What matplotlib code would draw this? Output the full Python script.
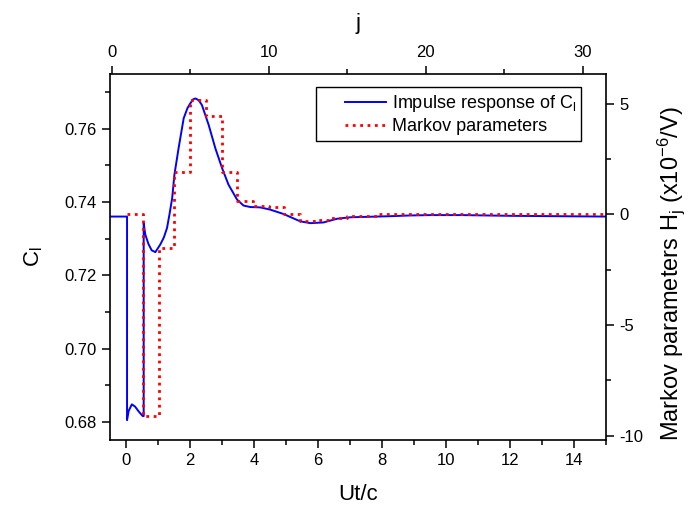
import matplotlib
matplotlib.use('Agg')
import matplotlib.pyplot as plt
from matplotlib.ticker import MultipleLocator
from matplotlib.legend_handler import HandlerLine2D

plt.rcParams['font.family'] = ['Liberation Sans', 'DejaVu Sans']
plt.rcParams['mathtext.fontset'] = 'custom'
plt.rcParams['mathtext.rm'] = 'Liberation Sans'
plt.rcParams['mathtext.it'] = 'Liberation Sans'
plt.rcParams['mathtext.default'] = 'regular'
plt.rcParams['axes.unicode_minus'] = False

# impulse response of C_l (Ut/c, C_l)
ut = [-0.5, 0.03, 0.03, 0.08, 0.18, 0.28, 0.40, 0.52, 0.55, 0.55, 0.60, 0.70,
      0.80, 0.915, 1.07, 1.18, 1.28, 1.36, 1.44, 1.51, 1.64, 1.80, 1.92, 2.01,
      2.10, 2.17, 2.27, 2.37, 2.58, 2.79, 3.00, 3.20, 3.47, 3.67, 3.88, 4.19,
      4.50, 4.92, 5.44, 5.76, 6.17, 6.59, 7.00, 8.25, 8.88, 9.50, 10.5, 12.0,
      15.0]
cl = [0.736, 0.736, 0.6805, 0.6830, 0.6848, 0.6842, 0.6828, 0.6816, 0.6816,
      0.7342, 0.7311, 0.7285, 0.7268, 0.7263, 0.7284, 0.7303, 0.7329, 0.7368,
      0.7410, 0.7474, 0.7546, 0.7628, 0.7656, 0.7669, 0.7680, 0.7682, 0.7677,
      0.7664, 0.7610, 0.7546, 0.7492, 0.7447, 0.7406, 0.7390, 0.7386, 0.7385,
      0.7379, 0.7367, 0.7347, 0.7342, 0.7344, 0.7354, 0.7358, 0.7361, 0.7363,
      0.7364, 0.7364, 0.7362, 0.7360]

# Markov parameters H_j (x1e-6 /V), j = 1..32
j = list(range(1, 33))
h = [0.0, -9.11, -1.51, 1.90, 5.16, 4.46, 1.92, 0.61, 0.39, 0.32, 0.0, -0.30,
     -0.23, -0.15, -0.08, -0.05, 0.0, 0.02, 0.03, 0.03, 0.03, 0.03, 0.02, 0.02,
     0.02, 0.01, 0.01, 0.01, 0.0, 0.0, 0.0, 0.0]

fig = plt.figure(figsize=(6.88, 5.07), dpi=100)
ax = fig.add_axes([0.16, 0.133, 0.721, 0.722])
ax2 = fig.add_axes(ax.get_position(), frameon=False)
ax2.patch.set_visible(False)

l1, = ax.plot(ut, cl, color='#0000ff', lw=1.4, label=r'Impulse response of C$_l$')
l2, = ax2.step(j, h, where='post', color='red', ls=':', lw=2.0,
               label='Markov parameters')

ax.set_xlim(-0.5, 15)
ax.set_ylim(0.6752, 0.7750)
ax2.set_xlim(-0.1, 31.5)
ax2.set_ylim(-10.17, 6.37)

ax.xaxis.set_major_locator(MultipleLocator(2))
ax.xaxis.set_minor_locator(MultipleLocator(1))
ax.yaxis.set_major_locator(MultipleLocator(0.02))
ax.yaxis.set_minor_locator(MultipleLocator(0.01))
ax.yaxis.set_major_formatter(plt.FormatStrFormatter('%.2f'))

ax2.xaxis.tick_top()
ax2.xaxis.set_label_position('top')
ax2.yaxis.tick_right()
ax2.yaxis.set_label_position('right')
ax2.xaxis.set_major_locator(MultipleLocator(10))
ax2.xaxis.set_minor_locator(MultipleLocator(5))
ax2.yaxis.set_major_locator(MultipleLocator(5))
ax2.yaxis.set_minor_locator(MultipleLocator(2.5))

for a in (ax, ax2):
    a.tick_params(which='major', direction='out', length=6, width=1.1, labelsize=12)
    a.tick_params(which='minor', direction='out', length=3.5, width=1.1)
for s in ax.spines.values():
    s.set_linewidth(1.2)

ax.set_xlabel('Ut/c', fontsize=16, labelpad=12)
ax.set_ylabel(r'C$_l$', fontsize=16, labelpad=14)
ax2.set_xlabel('j', fontsize=16, labelpad=12)
ax2.set_ylabel(r'Markov parameters H$_j$ (x10$^{-6}$/V)', fontsize=17, labelpad=8)
ax2.yaxis.set_label_coords(1.1, 0.452)

hm = {l1: HandlerLine2D(xpad=1.3), l2: HandlerLine2D(xpad=1.3)}
leg = ax2.legend([l1, l2], [l1.get_label(), l2.get_label()], loc='upper right',
                 bbox_to_anchor=(0.95, 0.962), borderaxespad=0, fontsize=13,
                 fancybox=False, edgecolor='black', framealpha=1,
                 handlelength=3.6, handletextpad=0.3, borderpad=0.3,
                 labelspacing=0.25, handler_map=hm)
leg.get_frame().set_linewidth(1.0)

fig.savefig('out.png', dpi=100)
